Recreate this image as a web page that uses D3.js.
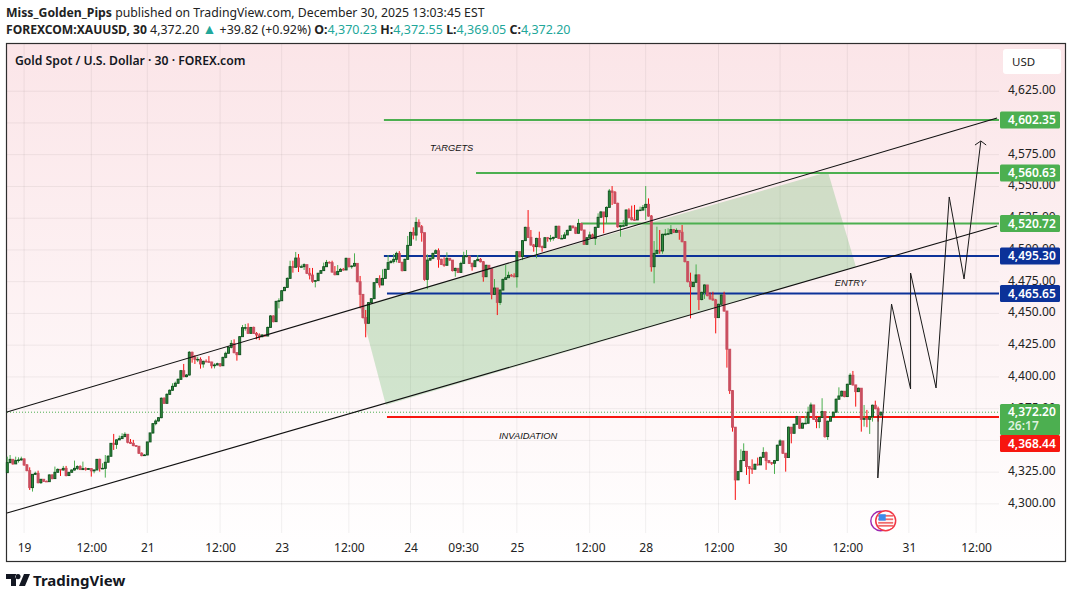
<!DOCTYPE html>
<html>
<head>
<meta charset="utf-8">
<title>Gold Spot / U.S. Dollar</title>
<script src="https://cdn.jsdelivr.net/npm/d3@7"></script>
<style>
  body { margin: 0; background: #fff; }
  text { font-family: "Noto Sans", sans-serif; }
</style>
</head>
<body>
<script>
// 30 minute candles, open of a bar is the close before it
var firstOpen = 4324.6;
var closes = [
  4332.5,4335.1,4331.5,4334.1,4334.6,4335.4,4330.7,4326.2,4312.8,4323.3,
  4324.1,4316.7,4319.4,4317.8,4317.5,4322.8,4319.9,4324.9,4327.2,4326.7,
  4328,4322.3,4324.9,4326.7,4328,4329.4,4327,4327.8,4327.2,4327.8,
  4326,4326.7,4335.1,4328,4328,4332.8,4337.5,4347.7,4346.9,4350.4,
  4351.4,4353,4354.8,4348.5,4347.7,4345.9,4345.4,4339.9,4338,4338.5,
  4348.8,4355.9,4363.2,4365.3,4367.9,4383.2,4379.2,4386.3,4389.5,4392.6,
  4395,4398.1,4404.9,4400.2,4401.5,4419.4,4415.4,4413.8,4413.8,4410.2,
  4412.3,4412,4411.7,4408.8,4409.4,4410.4,4408.8,4415.4,4418.6,4423.3,
  4426.4,4419.1,4417.5,4431.7,4438.8,4438.8,4434.3,4439,4434.3,4433,
  4431.7,4433,4432.2,4439,4448,4443.5,4459.5,4460,4467.9,4470.5,
  4477.6,4486.8,4486.3,4493.6,4486.8,4486.8,4488.4,4481.6,4480.2,4475.3,
  4475.8,4481.6,4483.7,4486.8,4490.2,4490,4482.6,4480.5,4483.1,4484.7,
  4484.2,4493.4,4486.8,4487.3,4489.4,4475,4465,4446.7,4442.2,4458.5,
  4461.6,4474.2,4477.4,4472.4,4477.6,4484.7,4490,4491,4492.6,4497.3,
  4490.2,4483.7,4492.6,4503.6,4513.8,4511.7,4521.7,4518.3,4513.6,4476.8,
  4492,4493.4,4497.3,4499.4,4492.6,4488.6,4487.9,4493.4,4492,4483.7,
  4485.5,4482.3,4489.4,4495.2,4495.2,4489.4,4486.8,4491.5,4492.6,4490.7,
  4478.9,4487.9,4485.2,4465,4470,4458.7,4468.4,4476.8,4478.1,4480,
  4479.5,4478.9,4498.6,4494.7,4507.3,4517.8,4509.9,4503.9,4502.6,4509.1,
  4502.6,4501.8,4509.6,4509.1,4509.1,4509.9,4518.6,4509.1,4509.1,4511.8,
  4515.4,4518.8,4517.5,4513.1,4520.9,4515.7,4504.4,4509.6,4511.8,4509.1,
  4517.8,4525.7,4529.9,4526.2,4533.5,4546.4,4545.4,4536.7,4518.3,4519.1,
  4519.1,4531.4,4525.4,4523.8,4523.6,4531.2,4531.4,4533.5,4535.9,4526.7,
  4486.8,4497.3,4499.7,4499.2,4512.3,4512.5,4512.8,4516,4513.9,4515.4,
  4513.9,4506.5,4490.8,4475,4471.1,4474.5,4480.3,4460.9,4466.6,4472.4,
  4464,4461.4,4460.6,4446.7,4457.2,4464.5,4451.9,4421.8,4389.2,4360.4,
  4318.9,4325.4,4334.1,4341.4,4329.4,4327.8,4327.3,4331.2,4330.7,4336.7,
  4340.4,4334.1,4332.5,4332,4334.1,4346.2,4349.6,4339.9,4336.5,4360.4,
  4355.6,4362.7,4368.7,4359.6,4363.5,4363.5,4372.2,4377.9,4366.6,4364.8,
  4368,4372.7,4353,4365.1,4368.7,4372.2,4382.4,4385,4388.7,4384.5,
  4394.2,4401.3,4393.7,4388.4,4391.1,4366.6,4367.2,4366.6,4368.7,4377.7,
  4375,4370,4372.2
];
var highs = [
  4337.2,4338.5,4335.1,4337.2,4336.7,4337.2,4335.9,4331.4,4328.8,4323.3,
  4325.4,4326.2,4319.4,4318.9,4318.3,4323.3,4323.3,4329.4,4328,4327.2,
  4329.9,4329.9,4324.9,4327.2,4334.1,4330.4,4330.4,4333.3,4328.8,4328.3,
  4328,4327.2,4335.1,4335.6,4332,4338.5,4338.5,4347.7,4355.1,4350.9,
  4353.8,4355.6,4356.4,4354.8,4351.1,4350.4,4346.2,4345.4,4340.6,4339.3,
  4348.8,4355.9,4363.5,4366.6,4368.2,4383.9,4383.9,4387.1,4390.2,4395,
  4396.3,4398.9,4405.5,4410.2,4402.3,4420.4,4419.9,4417.2,4415.9,4415.4,
  4412.8,4413.8,4416.4,4412,4410.7,4411.2,4410.7,4415.9,4419.9,4424.3,
  4429,4429.6,4419.6,4432.2,4440.9,4441.7,4442.2,4439,4439.6,4435.3,
  4434.3,4433.8,4433.3,4439.6,4448.7,4448.5,4460,4461.9,4468.4,4471,
  4478.4,4491.5,4491.5,4498.4,4496.8,4488.4,4489.4,4488.4,4485.8,4485.8,
  4476.3,4482.1,4484.2,4490,4492.1,4491,4491.5,4487.3,4488.1,4485.8,
  4485.8,4493.9,4493.4,4487.9,4497.3,4489.4,4479.5,4465,4452.7,4459,
  4462.1,4474.7,4477.9,4480,4484.7,4485.2,4496,4492,4496.8,4498.6,
  4499.1,4490.7,4493.1,4511,4514.4,4517.8,4525.7,4524.1,4519.6,4513,
  4496.5,4494.2,4497.8,4500.5,4501.2,4493.1,4494.2,4498.1,4493.1,4492,
  4486,4485.5,4490.7,4498.6,4499.9,4495.2,4490,4492,4496,4493.6,
  4491.3,4488.4,4487.9,4485.5,4477.1,4470,4468.9,4477.4,4488.1,4482.9,
  4481,4481.6,4499.1,4498.6,4507.8,4518.3,4531.4,4515.7,4504.7,4509.6,
  4514.4,4503.4,4510.2,4510.2,4511.8,4510.4,4519.1,4519.1,4511.8,4513.9,
  4516,4519.4,4519.1,4518.3,4524.4,4520.9,4515.7,4510.2,4514.4,4512.8,
  4518.3,4528.8,4530.7,4529.9,4534.3,4548,4550.3,4546.4,4537.2,4519.6,
  4523.6,4532,4532.8,4534.9,4535.4,4531.7,4534.1,4535.4,4550.3,4540.6,
  4527.5,4507,4518.3,4515.7,4512.8,4516.5,4517,4519.6,4516.5,4517,
  4515.4,4519.6,4507,4491.3,4482.1,4475,4488.6,4480.8,4467.1,4472.9,
  4472.4,4466.6,4467.1,4461.4,4457.7,4465,4467.1,4451.4,4421.8,4389.7,
  4360.4,4326,4343,4347.7,4341.4,4329.9,4335.1,4331.7,4336.5,4337.2,
  4344.6,4341.2,4334.1,4333,4334.6,4346.7,4350.9,4349.6,4339.9,4360.9,
  4360.4,4363.2,4369.3,4368.7,4364,4369.3,4376.6,4379.8,4377.9,4369.3,
  4368.5,4383.2,4372.7,4365.6,4369.3,4372.7,4383.2,4391.8,4389.2,4388.7,
  4394.7,4402.9,4404.7,4393.7,4391.6,4391.1,4377.9,4374,4369.3,4378.2,
  4381.3,4376.6,4372.55
];
var lows = [
  4324.6,4332,4330.9,4332,4332.5,4334.1,4329.9,4325.7,4311,4309.7,
  4322.8,4316.2,4315.7,4317.3,4317.3,4317.5,4319.4,4319.9,4324.6,4322,
  4326.2,4321.7,4322,4324.6,4326.2,4326.7,4326.7,4326.7,4326.2,4326.7,
  4321.5,4324.1,4326.7,4325.4,4327.5,4320.7,4332.8,4337.5,4342.5,4343.3,
  4350.4,4351.4,4352.5,4347.7,4347.2,4345.4,4344.8,4339.3,4337.5,4337.8,
  4338.5,4348.8,4355.1,4361.9,4364.8,4367.4,4378.7,4379.2,4385.8,4388.9,
  4392.1,4394.5,4397.6,4399.7,4399.7,4401,4411.2,4410.2,4411.7,4406.5,
  4407.3,4411.5,4411.2,4406.7,4406.7,4409.1,4408,4408.8,4414.6,4418.6,
  4422.5,4418.6,4412.8,4417.5,4431.7,4436.4,4433.8,4434.3,4433.8,4429.6,
  4429,4431.1,4431.7,4432.2,4439,4443,4443.5,4454,4460,4467.9,
  4470.5,4478.4,4482.1,4486.8,4482.6,4486.3,4484.2,4481,4476.8,4474.2,
  4470.5,4475.8,4481.6,4483.7,4486.8,4489.4,4482.1,4480,4482.1,4483.7,
  4483.7,4484.2,4486.3,4485.2,4486.8,4474.5,4454,4446.1,4431.2,4442.2,
  4457.9,4461.6,4474.2,4470.3,4472.4,4477.6,4484.7,4489.4,4489.4,4490.2,
  4489.7,4483.1,4483.7,4492.6,4503.6,4508.3,4507.3,4517.8,4506.5,4475.8,
  4469,4491.5,4492.6,4497.3,4486,4488.1,4486.8,4487.9,4491.5,4483.1,
  4478.9,4481.8,4482.3,4489.4,4494.2,4488.9,4483.7,4486.8,4491.5,4490.2,
  4475,4478.9,4484.7,4461.1,4465,4448.7,4456.6,4468.4,4476.8,4478.4,
  4478.9,4478.4,4470.3,4494.2,4492,4507.3,4509.4,4503.4,4498.6,4493.4,
  4502,4498.6,4501.8,4506.5,4506.5,4507.3,4509.9,4508.6,4508.6,4508.6,
  4511.8,4515.4,4517,4512.5,4513.1,4515.2,4503.9,4504.4,4509.1,4508.6,
  4503.9,4517.8,4525.7,4513.1,4520.4,4533.5,4535.4,4536.2,4517.5,4510.4,
  4518.6,4519.1,4524.9,4523.3,4523,4523.6,4530.7,4530.9,4523.6,4526.2,
  4482.9,4473.7,4497,4497,4497,4511,4512.3,4512.8,4513.3,4513.9,
  4508,4506,4490.2,4474.5,4446.1,4471.1,4474.5,4452.7,4460.3,4461.4,
  4463.5,4460.9,4460,4434.3,4446.7,4457.2,4451.4,4407.3,4386.6,4356.9,
  4303.1,4318.9,4325.4,4334.1,4322.8,4315.7,4323.6,4327.5,4330.2,4330.7,
  4336.7,4326.8,4332,4330.7,4323.6,4334.1,4346.2,4339.3,4325.4,4336.5,
  4347.7,4355.6,4362.7,4359,4359.6,4363,4363.5,4372.2,4366.1,4359.6,
  4359.6,4368,4352.2,4350.4,4365.1,4368.7,4372.2,4382.4,4384.5,4384,
  4384.5,4394.2,4393.2,4376.6,4388.4,4356.9,4360.9,4360.4,4355.1,4364.8,
  4374.5,4364.8,4369.05
];

// axes
var priceTicks = [4625,4600,4575,4550,4525,4500,4475,4450,4425,4400,4375,4350,4325,4300];
var timeBars = [6,30,50,76,98,122,144,162.8,182,208,228,254,276,300,322,346];
var timeLabels = ["19","12:00","21","12:00","23","12:00","24","09:30","25","12:00","28","12:00","30","12:00","31","12:00"];

// price levels drawn by the author: [price, first bar, colour]
var levelPrices = [4602.35,4560.63,4520.72,4495.30,4465.65,4368.44];
var levelStart = [134.5,167.4,204.9,134.5,135.6,135.6];
var levelColors = ["#4caf50","#4caf50","#4caf50","#0c3299","#0c3299","#f7160f"];
var lastPrice = 4372.20;

// channel, box and projected path, in [bar, price]
var channelUpper = [[-0.1,4372.4],[353.5,4603.9]];
var channelLower = [[-0.1,4292.8],[353.5,4518.9]];
var entryBox = [[125.9,4455.9],[293.1,4561.4],[303.1,4486.6],[135.2,4377.9]];
var projection = [[311,4370],[310.9,4320.4],[315.8,4457.4],[322.6,4390.5],[322.6,4481.8],
  [331.7,4391.3],[336.4,4541.7],[341.7,4477.1],[347.7,4585.8]];
var arrowHead = [[345.6,4582.6],[347.7,4585.8],[349.6,4582.6]];

var margin = { left: 7, right: 1065, top: 44, bottom: 561 };
var plotRight = 999;

var x = d3.scaleLinear().domain([0, 354]).range([7.3, 998.5]);
var y = d3.scaleLinear().domain([4300, 4625]).range([503.9, 91.2]);

var svg = d3.select("body").append("svg").attr("width", 1072).attr("height", 599)
  .style("display", "block");

var grad = svg.append("defs").append("linearGradient").attr("id", "bg")
  .attr("x1", 0).attr("x2", 0).attr("y1", 0).attr("y2", 1);
grad.append("stop").attr("offset", "0%").attr("stop-color", "#fbe5e8");
grad.append("stop").attr("offset", "100%").attr("stop-color", "#ffffff");

svg.append("rect").attr("x", 6.5).attr("y", 43.5).attr("width", 1059).attr("height", 518)
  .attr("fill", "url(#bg)").attr("stroke", "#2e2e2e").attr("stroke-width", 1.2);

// grid
svg.append("g").selectAll("line").data(priceTicks).join("line")
  .attr("x1", margin.left).attr("x2", plotRight)
  .attr("y1", function(d) { return y(d); }).attr("y2", function(d) { return y(d); })
  .attr("stroke", "#000").attr("stroke-opacity", 0.06);
svg.append("g").selectAll("line").data(timeBars).join("line")
  .attr("x1", function(d) { return x(d); }).attr("x2", function(d) { return x(d); })
  .attr("y1", margin.top).attr("y2", 533)
  .attr("stroke", "#000").attr("stroke-opacity", 0.06);

// entry box under the candles
svg.append("polygon")
  .attr("points", entryBox.map(function(d) { return x(d[0]) + "," + y(d[1]); }).join(" "))
  .attr("fill", "#4caf50").attr("fill-opacity", 0.25);

// dotted last price
svg.append("line").attr("x1", margin.left).attr("x2", plotRight)
  .attr("y1", y(lastPrice)).attr("y2", y(lastPrice))
  .attr("stroke", "#4caf50").attr("stroke-width", 1).attr("stroke-dasharray", "1 2");

// levels
svg.append("g").selectAll("line").data(levelPrices).join("line")
  .attr("x1", function(d, i) { return x(levelStart[i]); }).attr("x2", plotRight)
  .attr("y1", function(d) { return y(d); }).attr("y2", function(d) { return y(d); })
  .attr("stroke", function(d, i) { return levelColors[i]; }).attr("stroke-width", 2);

// candles
var candles = closes.map(function(c, i) {
  return { i: i, o: i ? closes[i - 1] : firstOpen, c: c, h: highs[i], l: lows[i] };
});
var gc = svg.append("g");
gc.selectAll("line").data(candles).join("line")
  .attr("x1", function(d) { return x(d.i); }).attr("x2", function(d) { return x(d.i); })
  .attr("y1", function(d) { return y(d.h); }).attr("y2", function(d) { return y(d.l); })
  .attr("stroke", function(d) { return d.c >= d.o ? "#4caf50" : "#f70f0f"; })
  .attr("stroke-width", 1);
gc.selectAll("rect").data(candles).join("rect")
  .attr("x", function(d) { return x(d.i) - 1; })
  .attr("width", 2)
  .attr("y", function(d) { return y(Math.max(d.o, d.c)); })
  .attr("height", function(d) { return Math.max(0.6, Math.abs(y(d.o) - y(d.c))); })
  .attr("fill", function(d) { return d.c >= d.o ? "#2e8b3d" : "#c94f60"; })
  .attr("stroke", function(d) { return d.c >= d.o ? "#0f4f1e" : "#c94f60"; })
  .attr("stroke-width", 0.9);

// channel and projection
var line = d3.line().x(function(d) { return x(d[0]); }).y(function(d) { return y(d[1]); });
[channelUpper, channelLower].forEach(function(p) {
  svg.append("path").attr("d", line(p)).attr("fill", "none")
    .attr("stroke", "#111").attr("stroke-width", 1.1);
});
[projection, arrowHead].forEach(function(p) {
  svg.append("path").attr("d", line(p)).attr("fill", "none")
    .attr("stroke", "#1a1a1a").attr("stroke-width", 1);
});

// notes on the chart
var notes = ["TARGETS", "ENTRY", "INVAIDATION"];
var noteBars = [151, 295.5, 175.6];
var notePrices = [4578, 4471.6, 4351.5];
svg.append("g").selectAll("text").data(notes).join("text")
  .attr("x", function(d, i) { return x(noteBars[i]); })
  .attr("y", function(d, i) { return y(notePrices[i]); })
  .style("font-family", "'Liberation Sans', sans-serif")
  .style("font-style", "italic").style("font-size", "9.3px").attr("fill", "#111")
  .text(function(d) { return d; });

// price axis, the two ticks behind the last price and stop tags are hidden by them as in the original
var yAxis = svg.append("g").attr("transform", "translate(1006,0)")
  .call(d3.axisRight(y).tickValues(priceTicks).tickSize(0).tickPadding(2)
    .tickFormat(d3.format(",.2f")));
yAxis.select(".domain").remove();
yAxis.selectAll("text").attr("dy", "0.2em").attr("fill", "#222").style("font-size", "12px")
  .style("font-family", "'Noto Sans', sans-serif");

// time axis
var xAxis = svg.append("g").attr("transform", "translate(0,539)")
  .call(d3.axisBottom(x).tickValues(timeBars).tickSize(0).tickPadding(4)
    .tickFormat(function(d, i) { return timeLabels[i]; }));
xAxis.select(".domain").remove();
xAxis.selectAll("text").attr("fill", "#222").style("font-size", "12px")
  .style("font-family", "'Noto Sans', sans-serif");

// price tags
function tag(cy, color, label) {
  svg.append("rect").attr("x", 1000).attr("y", cy - 8.5).attr("width", 60).attr("height", 17)
    .attr("rx", 1.5).attr("fill", color);
  svg.append("text").attr("x", 1008).attr("y", cy + 4.2).attr("fill", "#fff")
    .style("font-size", "12px").style("font-weight", 600).text(label);
}
// the stop tag sits below the last price tag instead of on its own level
levelPrices.forEach(function(p, i) {
  tag(i === 5 ? 443.5 : y(p), levelColors[i], d3.format(",.2f")(p));
});
svg.append("rect").attr("x", 1000).attr("y", 404).attr("width", 60).attr("height", 31)
  .attr("rx", 1.5).attr("fill", "#4caf50");
svg.append("text").attr("x", 1008).attr("y", 416).attr("fill", "#fff")
  .style("font-size", "12px").style("font-weight", 600).text(d3.format(",.2f")(lastPrice));
svg.append("text").attr("x", 1008).attr("y", 430).attr("fill", "#dff2df")
  .style("font-size", "12px").style("font-weight", 600).text("26:17");

// currency button
svg.append("rect").attr("x", 1003).attr("y", 49).attr("width", 58).attr("height", 25)
  .attr("rx", 3).attr("fill", "#fff");
svg.append("text").attr("x", 1012).attr("y", 66).attr("fill", "#222")
  .style("font-size", "11.5px").text("USD");

// event badge
svg.append("circle").attr("cx", 880.5).attr("cy", 521).attr("r", 9.7)
  .attr("fill", "#fff").attr("stroke", "#9c27b0").attr("stroke-width", 1.4);
var badge = svg.append("g").attr("transform", "translate(885.7,520.7)");
badge.append("circle").attr("r", 10.7).attr("fill", "#f23645");
badge.append("circle").attr("r", 9.2).attr("fill", "#fff");
[-5, -1.5, 2, 5].forEach(function(d) {
  badge.append("rect").attr("x", -7.5).attr("y", d - 0.8).attr("width", 15).attr("height", 1.8)
    .attr("fill", "#f06a6a");
});
badge.append("rect").attr("x", -7).attr("y", -6.5).attr("width", 7).attr("height", 6.5).attr("fill", "#3d8bea");

// title in the pane
svg.append("text").attr("x", 15).attr("y", 64.5).attr("fill", "#131722")
  .style("font-size", "12.2px").style("font-weight", 600)
  .text("Gold Spot / U.S. Dollar \u00b7 30 \u00b7 FOREX.com");

// header rows
var h1 = svg.append("text").attr("x", 6).attr("y", 17).attr("fill", "#222").style("font-size", "12.25px");
h1.append("tspan").style("font-weight", 700).text("Miss_Golden_Pips");
h1.append("tspan").text(" published on TradingView.com, December 30, 2025 13:03:45 EST");

var teal = "#22a79a";
var headerParts = [
  ["FOREXCOM:XAUUSD, 30", 700, "#222", 12.1], [" 4,372.20 ", 400, "#222", 12.4], ["\u25b2", 400, teal, 14],
  [" +39.82 (+0.92%) ", 400, "#222", 12.4], ["O:", 700, "#222", 12.4], ["4,370.23 ", 400, teal, 12.5],
  ["H:", 700, "#222", 12.4], ["4,372.55 ", 400, teal, 12.5], ["L:", 700, "#222", 12.4], ["4,369.05 ", 400, teal, 12.5],
  ["C:", 700, "#222", 12.4], ["4,372.20", 400, teal, 12.5]
];
var h2 = svg.append("text").attr("x", 6).attr("y", 34).attr("fill", "#222");
headerParts.forEach(function(p) {
  h2.append("tspan").style("font-weight", p[1]).style("font-size", p[3] + "px").attr("fill", p[2]).text(p[0]);
});

// TradingView mark
svg.append("path").attr("fill", "#131722")
  .attr("d", "M6 574h10v12h-5v-7H6z M18 574a2.6 2.6 0 1 0 .01 0 M24 574h6l-5 12h-6z");
svg.append("text").attr("x", 33).attr("y", 586).attr("fill", "#131722")
  .style("font-size", "15px").style("font-weight", 700).text("TradingView");
</script>
</body>
</html>
